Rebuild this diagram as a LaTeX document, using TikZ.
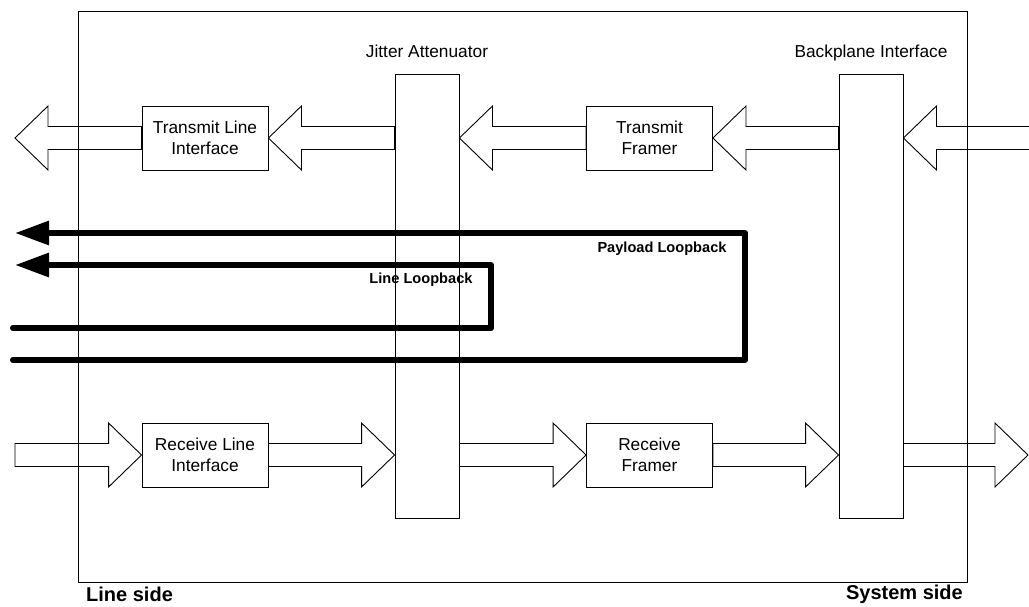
\documentclass[tikz,border=0pt]{standalone}
\usepackage{fontspec}
\setmainfont{Liberation Sans}
\usetikzlibrary{positioning,calc,arrows.meta}

\tikzset{
  unitbox/.style={draw, line width=0.9pt, minimum width=126pt, minimum height=64pt,
    inner sep=0pt, align=center, font=\fontsize{17.3}{21}\selectfont},
  column/.style={draw, line width=0.9pt, minimum width=64pt, minimum height=444pt, inner sep=0pt},
  toplabel/.style={font=\fontsize{17.3}{21}\selectfont, inner sep=0pt, text height=12.5pt, text depth=0pt},
  blockline/.style={draw, line width=0.9pt, line join=miter},
  loopline/.style={line width=6pt, line cap=round, line join=round,
    -{Triangle[length=34pt,width=23pt]}},
  looplabel/.style={font=\bfseries\fontsize{14.6}{17}\selectfont, inner sep=0pt},
  sidelabel/.style={font=\bfseries\fontsize{20}{24}\selectfont, inner sep=0pt},
}

% hollow block arrow: shaft starts at #1, tip sits on #2
\newcommand{\flowarrow}[2]{%
  \draw[blockline] let \p1=(#1), \p2=(#2), \p3=($(#2)!33pt!(#1)$) in
    (\x1,\y1+11.5pt) -- (\x3,\y1+11.5pt) -- (\x3,\y1+32pt) -- (\x2,\y2)
    -- (\x3,\y1-32pt) -- (\x3,\y1-11.5pt) -- (\x1,\y1-11.5pt) -- cycle;
}

\begin{document}
\begin{tikzpicture}[x=1pt,y=-1pt]
  \useasboundingbox (0,0) rectangle (1029,606);

  % device outline
  \draw[line width=0.9pt] (78,11) rectangle (967,582);

  % the two vertical blocks
  \node[column] (jit) at (427,296) {};
  \node[column] (bpi) at (871,296) {};
  \node[toplabel, above=16pt of jit] (jitlabel) {Jitter Attenuator};
  \node[toplabel, above=16pt of bpi] (bpilabel) {Backplane Interface};

  % transmit and receive units
  \node[unitbox] (tli) at (205,138) {Transmit Line\\Interface};
  \node[unitbox] (tfr) at (649.5,138) {Transmit\\Framer};
  \node[unitbox] (rli) at (205,455) {Receive Line\\Interface};
  \node[unitbox] (rfr) at (649.5,455) {Receive\\Framer};

  \coordinate (sysin) at (1034,138);
  \coordinate (lineout) at (15,138);
  \coordinate (linein) at (15,455);
  \coordinate (sysout) at (1028,455);

  % transmit path, right to left
  \flowarrow{sysin}{bpi.east |- tfr}
  \flowarrow{bpi.west |- tfr}{tfr.east}
  \flowarrow{tfr.west}{jit.east |- tfr}
  \flowarrow{jit.west |- tli}{tli.east}
  \flowarrow{tli.west}{lineout}

  % receive path, left to right
  \flowarrow{linein}{rli.west}
  \flowarrow{rli.east}{jit.west |- rli}
  \flowarrow{jit.east |- rfr}{rfr.west}
  \flowarrow{rfr.east}{bpi.west |- rfr}
  \flowarrow{bpi.east |- rfr}{sysout}

  % loopbacks
  \coordinate (plin) at (13,360);
  \coordinate (plout) at (15,233);
  \coordinate (llin) at (13,328);
  \coordinate (llout) at (15,265);
  \draw[loopline] (plin) -- ++(732,0) |- (plout);
  \draw[loopline] (llin) -- ++(478,0) |- (llout);
  \node[looplabel] (pllabel) at (662,249) {Payload Loopback};
  \node[looplabel] (lllabel) at (421,280) {Line Loopback};

  % sides
  \node[sidelabel, anchor=west] (lineside) at (86,594) {Line side};
  \node[sidelabel, anchor=east] (sysside) at (963,594) {System side};
\end{tikzpicture}
\end{document}
